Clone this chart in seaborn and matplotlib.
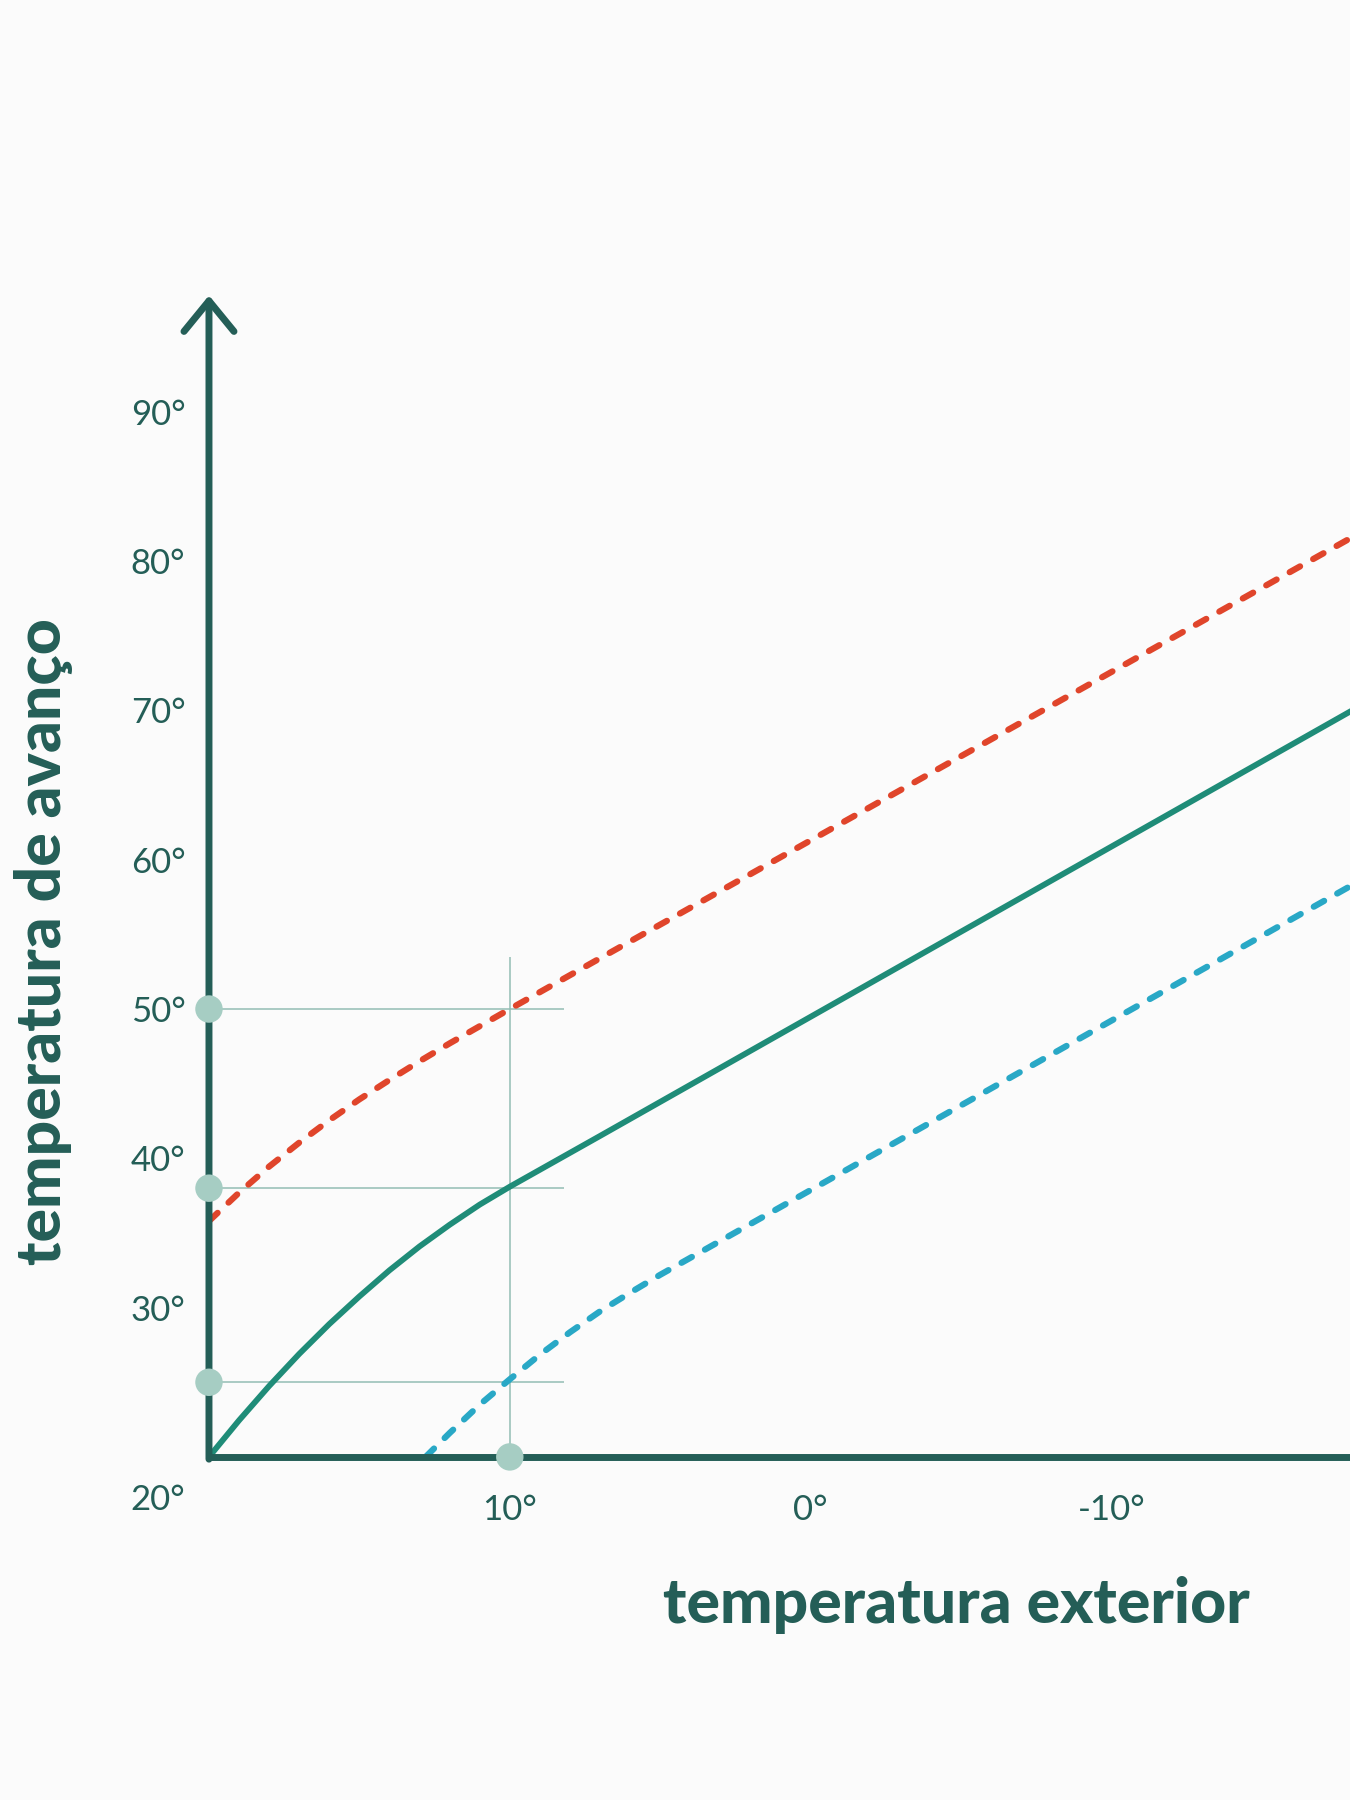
import numpy as np
import pandas as pd
import matplotlib
matplotlib.use("Agg")
import matplotlib.pyplot as plt
import seaborn as sns
from matplotlib.transforms import ScaledTranslation

# data (outside temp -> supply temp)
red_x = [20, 19, 18, 17, 16, 15, 14, 13, 12, 11, 10, 7, -18]
red_y = [35.8, 37.7, 39.45, 41.05, 42.55, 43.95, 45.25, 46.5, 47.7, 48.85, 50.0, 53.4, 81.6]

green_x = [20, 19, 18, 17, 16, 15, 14, 13, 12, 11, 10, 7, -18]
green_y = [20.0, 22.45, 24.75, 26.9, 28.9, 30.75, 32.5, 34.1, 35.55, 36.9, 38.1, 41.5, 70.0]

blue_x = [12.8, 12, 11, 10, 9, 8, 7, 6, 5, -18]
blue_y = [20.0, 21.6, 23.5, 25.2, 26.85, 28.35, 29.75, 31.0, 32.2, 58.3]

# reading guides at 10 degrees outside
guide_x = [10]
guide_y = [50, 38, 25]

x_ticks = [10, 0, -10]
x_labels = ["10°", "0°", "-10°"]
y_ticks = [20, 30, 40, 50, 60, 70, 80, 90]
y_labels = ["20°", "30°", "40°", "50°", "60°", "70°", "80°", "90°"]

xlabel = "temperatura exterior"
ylabel = "temperatura de avanço"

# colours
bg = "#fbfbfb"
axis_col = "#245e57"
green_col = "#1f8c78"
red_col = "#e0452b"
blue_col = "#29a8c6"
dot_col = "#a6cdc3"
guide_col = "#93bdb4"

sns.set_theme(style="white")
plt.rcParams['font.family'] = ['Lato', 'DejaVu Sans']

fig = plt.figure(figsize=(13.5, 18), dpi=100, facecolor=bg)
ax = fig.add_axes([0.1548, 0.1906, 0.8452, 0.6511])
ax.set_facecolor(bg)

df_red = pd.DataFrame({"x": red_x, "y": red_y})
df_green = pd.DataFrame({"x": green_x, "y": green_y})
df_blue = pd.DataFrame({"x": blue_x, "y": blue_y})

# guide lines (drawn first, underneath)
ax.vlines(guide_x, 20, 53.5, color=guide_col, lw=1.1, zorder=1)
ax.hlines(guide_y, 20, 8.2, color=guide_col, lw=1.1, zorder=1)

dash = (0, (1.9, 2.4))
sns.lineplot(data=df_red, x="x", y="y", ax=ax, color=red_col, lw=4.5,
             linestyle=dash, sort=False, zorder=3)
sns.lineplot(data=df_blue, x="x", y="y", ax=ax, color=blue_col, lw=4.5,
             linestyle=dash, sort=False, zorder=3)
sns.lineplot(data=df_green, x="x", y="y", ax=ax, color=green_col, lw=4.2,
             sort=False, zorder=3)
for ln in ax.get_lines():
    ln.set_dash_capstyle("round")
    ln.set_solid_capstyle("round")
    ln.set_solid_joinstyle("round")
    ln.set_dash_joinstyle("round")

# dots on the axes
sns.scatterplot(x=[20] * len(guide_y), y=guide_y, ax=ax, s=390, color=dot_col,
                edgecolor="none", zorder=6, clip_on=False)
sns.scatterplot(x=guide_x, y=[20] * len(guide_x), ax=ax, s=390, color=dot_col,
                edgecolor="none", zorder=6, clip_on=False)

ax.set_xlim(20, -17.93)
ax.set_ylim(20, 98.5)

# axes: bottom spine + arrow for the y axis
for s in ["top", "right", "left"]:
    ax.spines[s].set_visible(False)
ax.spines["bottom"].set_color(axis_col)
ax.spines["bottom"].set_linewidth(5)
ax.spines["bottom"].set_zorder(4)
ax.annotate("", xy=(20, 97.8), xytext=(20, 19.85),
            arrowprops=dict(arrowstyle="->,head_length=1.1,head_width=0.9",
                            lw=5, color=axis_col, mutation_scale=20,
                            shrinkA=0, shrinkB=0, capstyle="round",
                            joinstyle="round"),
            annotation_clip=False, zorder=4)

ax.set_xticks(x_ticks)
ax.set_xticklabels(x_labels)
ax.set_yticks(y_ticks)
ax.set_yticklabels(y_labels)
ax.tick_params(axis="both", length=0, labelsize=25, labelcolor=axis_col)
ax.tick_params(axis="x", pad=27)
ax.tick_params(axis="y", pad=17)
for lab in ax.get_xticklabels() + ax.get_yticklabels():
    lab.set_fontweight("normal")
    lab.set_color(axis_col)
# the 20° label sits below the x axis
first = ax.get_yticklabels()[0]
first.set_transform(first.get_transform() + ScaledTranslation(0, -0.40, fig.dpi_scale_trans))

ax.set_xlabel(xlabel, fontsize=45, fontweight="black", color=axis_col, va="center")
ax.xaxis.set_label_coords(0.6547, -0.1263)
ax.set_ylabel(ylabel, fontsize=45, fontweight="black", color=axis_col, va="center")
ax.yaxis.set_label_coords(-0.1446, 0.4394)

plt.savefig("out.png", dpi=100, facecolor=bg)
plt.close()
